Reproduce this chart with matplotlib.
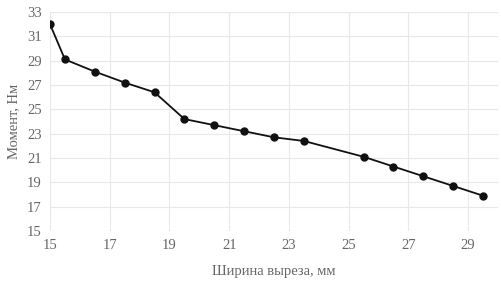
import numpy as np
import matplotlib.pyplot as plt

width = [15, 15.5, 16.5, 17.5, 18.5, 19.5, 20.5, 21.5, 22.5, 23.5, 25.5, 26.5, 27.5, 28.5, 29.5]
moment = [32.0, 29.1, 28.1, 27.2, 26.4, 24.2, 23.7, 23.2, 22.7, 22.4, 21.1, 20.3, 19.5, 18.7, 17.9]

plt.rcParams['font.family'] = ['Liberation Serif', 'DejaVu Serif']

fig = plt.figure(figsize=(5.02, 2.81), dpi=100)
ax = fig.add_axes([50 / 502, 50 / 281, 448 / 502, 219 / 281])

ax.plot(width, moment, color='#111111', lw=1.3, marker='o', ms=5, zorder=3)

ax.set_xlim(15, 30)
ax.set_ylim(15, 33)
ax.set_xticks(np.arange(15, 30, 2))
ax.set_yticks(np.arange(15, 34, 2))
ax.grid(True, color='#e8e8e8', lw=0.8)
for s in ax.spines.values():
    s.set_visible(False)
ax.tick_params(length=0, labelsize=10.5, labelcolor='#666666', pad=6)

ax.set_xlabel('Ширина выреза, мм', fontsize=10.5, color='#666666', labelpad=9)
ax.set_ylabel('Момент, Нм', fontsize=10.5, color='#666666', labelpad=5)

fig.savefig('out.png', dpi=100)
